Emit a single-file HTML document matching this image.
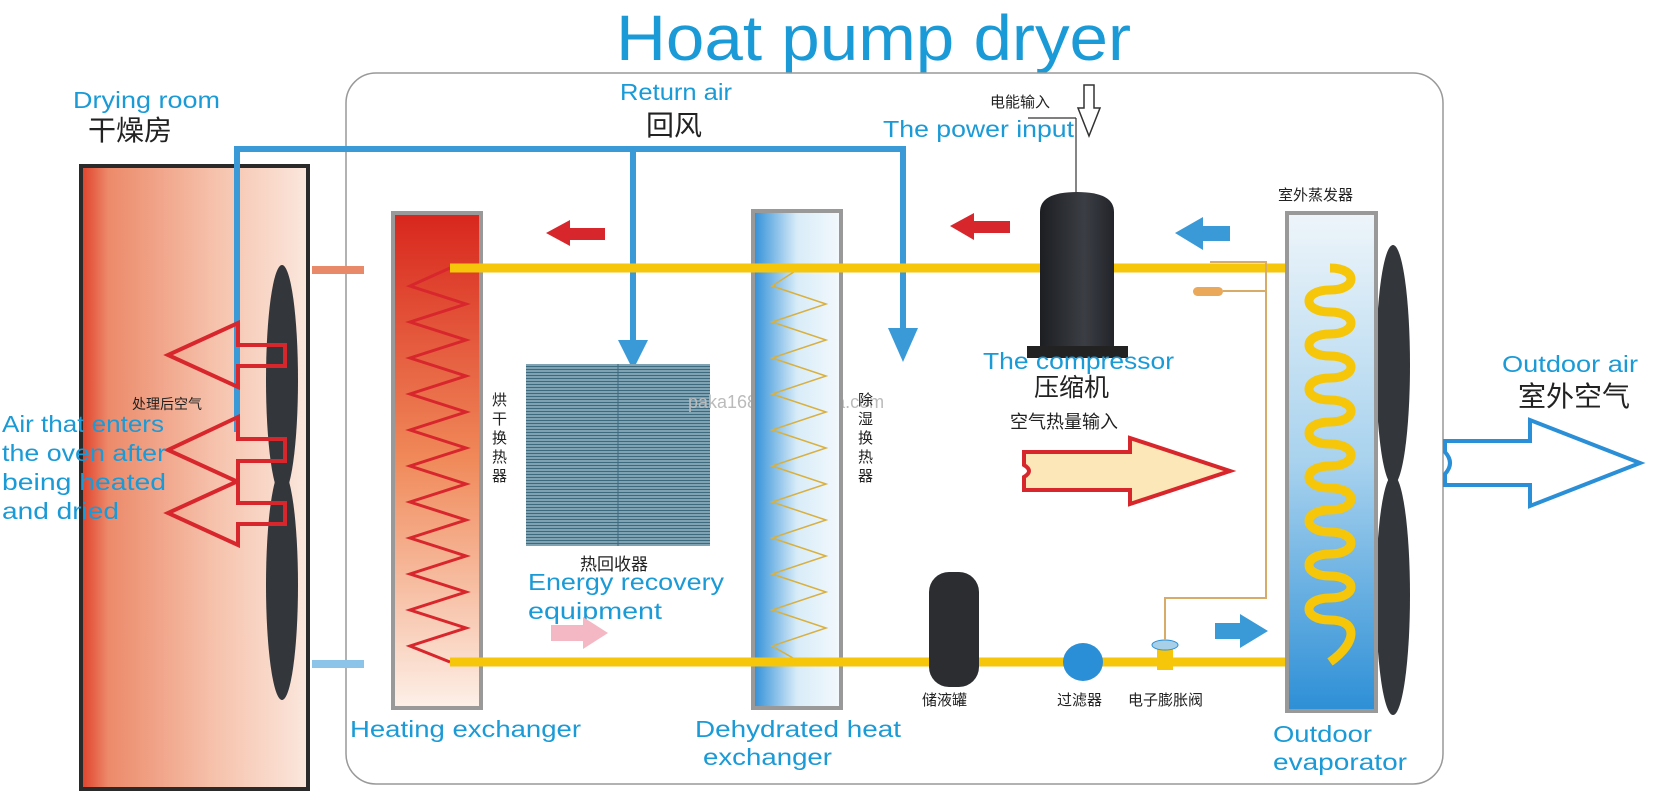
<!DOCTYPE html>
<html><head><meta charset="utf-8"><style>
html,body{margin:0;padding:0;background:#fff;}
svg{display:block;}
text{font-family:"Liberation Sans","Noto Sans CJK SC",sans-serif;}
.b{fill:#1a9ad6;}
.k{fill:#222;}
</style></head><body>
<svg width="1658" height="799" viewBox="0 0 1658 799" xmlns="http://www.w3.org/2000/svg">
<defs>
<linearGradient id="room" x1="0" x2="1" y1="0" y2="0">
<stop offset="0" stop-color="#e0402a"/><stop offset="0.12" stop-color="#ec8a6a"/><stop offset="0.6" stop-color="#f6c3ad"/><stop offset="1" stop-color="#fbe7dd"/></linearGradient>
<linearGradient id="heat" x1="0" x2="0" y1="0" y2="1">
<stop offset="0" stop-color="#d8261d"/><stop offset="0.5" stop-color="#f08a5a"/><stop offset="1" stop-color="#fdf0e8"/></linearGradient>
<linearGradient id="dehy" x1="0" x2="1" y1="0" y2="0">
<stop offset="0" stop-color="#2f8fd8"/><stop offset="0.5" stop-color="#d8ecf8"/><stop offset="1" stop-color="#f4f9fd"/></linearGradient>
<linearGradient id="evap" x1="0" x2="0" y1="0" y2="1">
<stop offset="0" stop-color="#eef5fa"/><stop offset="0.5" stop-color="#a8d2ee"/><stop offset="1" stop-color="#2d8fd6"/></linearGradient>
<linearGradient id="comp" x1="0" x2="1"><stop offset="0" stop-color="#1c1e22"/><stop offset="0.6" stop-color="#3b3e44"/><stop offset="1" stop-color="#22242a"/></linearGradient>
<pattern id="stripes" width="4" height="3" patternUnits="userSpaceOnUse"><rect width="4" height="3" fill="#7fa3b3"/><rect width="4" height="1" fill="#3e6a80"/></pattern>
</defs>

<text x="616" y="60" font-size="64" class="b" textLength="515" lengthAdjust="spacingAndGlyphs">Hoat pump dryer</text>
<rect x="346" y="73" width="1097" height="711" rx="30" fill="none" stroke="#999" stroke-width="1.5"/>

<!-- drying room -->
<rect x="81" y="166" width="227" height="623" fill="url(#room)" stroke="#2a2a2a" stroke-width="4"/>
<text x="73" y="108" font-size="23" class="b" textLength="147" lengthAdjust="spacingAndGlyphs">Drying room</text>
<text x="88" y="140" font-size="28" class="k">干燥房</text>
<rect x="312" y="266" width="52" height="8" fill="#e88a6a"/>
<rect x="312" y="660" width="52" height="8" fill="#8cc3e8"/>

<!-- return air line -->
<path d="M237 432 V149 H903 V330" fill="none" stroke="#3a9ad8" stroke-width="6"/>
<path d="M633 149 V345" fill="none" stroke="#3a9ad8" stroke-width="6"/>
<polygon points="618,340 648,340 633,370" fill="#3a9ad8"/>
<polygon points="888,328 918,328 903,362" fill="#3a9ad8"/>
<text x="620" y="100" font-size="23" class="b" textLength="112" lengthAdjust="spacingAndGlyphs">Return air</text>
<text x="646" y="135" font-size="28" class="k">回风</text>

<!-- fans -->
<ellipse cx="282" cy="380" rx="16" ry="115" fill="#33363a"/>
<ellipse cx="282" cy="585" rx="16" ry="115" fill="#33363a"/>
<ellipse cx="1393" cy="365" rx="17" ry="120" fill="#33363a"/>
<ellipse cx="1393" cy="595" rx="17" ry="120" fill="#33363a"/>

<!-- left outline arrows -->
<g fill="none" stroke="#d8262d" stroke-width="4">
<path d="M285 345 H238 V323 L168 355 L238 387 V366 H285 Z"/>
<path d="M285 439 H238 V417 L168 450 L238 482 V461 H285 Z"/>
<path d="M285 503 H238 V481 L168 513 L238 545 V524 H285 Z"/>
</g>
<text x="132" y="409" font-size="14" class="k">处理后空气</text>
<text x="2" y="432" font-size="23" class="b" textLength="162" lengthAdjust="spacingAndGlyphs">Air that enters</text>
<text x="2" y="461" font-size="23" class="b" textLength="164" lengthAdjust="spacingAndGlyphs">the oven after</text>
<text x="2" y="490" font-size="23" class="b" textLength="164" lengthAdjust="spacingAndGlyphs">being heated</text>
<text x="2" y="519" font-size="23" class="b" textLength="117" lengthAdjust="spacingAndGlyphs">and dried</text>

<!-- heating exchanger -->
<rect x="393" y="213" width="88" height="495" fill="url(#heat)" stroke="#999" stroke-width="4"/>
<polyline points="450,268 410,286 466,304 410,322 466,340 410,358 466,376 410,394 466,412 410,430 466,448 410,466 466,484 410,502 466,520 410,538 466,556 410,574 466,592 410,610 466,628 410,646 450,662" fill="none" stroke="#d8262d" stroke-width="3"/>
<text x="492" y="405" font-size="15" class="k">烘</text><text x="492" y="424" font-size="15" class="k">干</text><text x="492" y="443" font-size="15" class="k">换</text><text x="492" y="462" font-size="15" class="k">热</text><text x="492" y="481" font-size="15" class="k">器</text>
<text x="350" y="737" font-size="23" class="b" textLength="231" lengthAdjust="spacingAndGlyphs">Heating exchanger</text>

<!-- energy recovery -->
<rect x="526" y="364" width="184" height="182" fill="url(#stripes)"/>
<line x1="618" y1="364" x2="618" y2="546" stroke="#3e6a80" stroke-width="1"/>
<text x="580" y="570" font-size="17" class="k">热回收器</text>
<text x="528" y="590" font-size="23" class="b" textLength="196" lengthAdjust="spacingAndGlyphs">Energy recovery</text>
<text x="528" y="619" font-size="23" class="b" textLength="134" lengthAdjust="spacingAndGlyphs">equipment</text>
<polygon points="551,625 583,625 583,617 608,633 583,649 583,641 551,641" fill="#f3b8c3"/>
<text x="688" y="408" font-size="18" fill="#bbb">paka168.en.alibaba.com</text>

<!-- dehydrated -->
<rect x="753" y="211" width="88" height="497" fill="url(#dehy)" stroke="#999" stroke-width="4"/>
<polyline points="800,268 772,286 826,304 772,322 826,340 772,358 826,376 772,394 826,412 772,430 826,448 772,466 826,484 772,502 826,520 772,538 826,556 772,574 826,592 772,610 826,628 772,646 800,662" fill="none" stroke="#d8b040" stroke-width="1.5"/>
<text x="858" y="405" font-size="15" class="k">除</text><text x="858" y="424" font-size="15" class="k">湿</text><text x="858" y="443" font-size="15" class="k">换</text><text x="858" y="462" font-size="15" class="k">热</text><text x="858" y="481" font-size="15" class="k">器</text>
<text x="695" y="737" font-size="23" class="b" textLength="206" lengthAdjust="spacingAndGlyphs">Dehydrated heat</text>
<text x="703" y="765" font-size="23" class="b" textLength="129" lengthAdjust="spacingAndGlyphs">exchanger</text>

<!-- pipes -->
<path d="M450 268 H1330" stroke="#f5c60a" stroke-width="9" fill="none"/>
<path d="M450 662 H1330" stroke="#f5c60a" stroke-width="9" fill="none"/>

<!-- red / blue flow arrows -->
<polygon points="546,233 570,220 570,228 605,228 605,240 570,240 570,246" fill="#d8262d"/>
<polygon points="950,226 974,213 974,221 1010,221 1010,233 974,233 974,240" fill="#d8262d"/>
<polygon points="1175,233 1203,217 1203,226 1230,226 1230,241 1203,241 1203,250" fill="#3a9ad8"/>
<polygon points="1215,623 1240,623 1240,614 1268,631 1240,648 1240,639 1215,639" fill="#3a9ad8"/>

<!-- compressor -->
<line x1="1076" y1="118" x2="1076" y2="193" stroke="#333" stroke-width="1.2"/>
<line x1="1028" y1="118" x2="1076" y2="118" stroke="#333" stroke-width="1.2"/>
<path d="M1040 212 Q1040 192 1077 192 Q1114 192 1114 212 V350 H1040 Z" fill="url(#comp)"/>
<rect x="1027" y="346" width="101" height="12" fill="#222"/>
<path d="M1084 85 H1094 V108 H1100 L1089 136 L1078 108 H1084 Z" fill="#fff" stroke="#333" stroke-width="1.5"/>
<text x="990" y="107" font-size="15" class="k">电能输入</text>
<text x="883" y="137" font-size="23" class="b" textLength="191" lengthAdjust="spacingAndGlyphs">The power input</text>
<text x="983" y="369" font-size="23" class="b" textLength="191" lengthAdjust="spacingAndGlyphs">The compressor</text>
<text x="1034" y="396" font-size="25" class="k">压缩机</text>
<text x="1010" y="428" font-size="18" class="k">空气热量输入</text>
<path d="M1024 465 V452 H1130 V438 L1230 471 L1130 504 V490 H1024 V477 Q1034 471 1024 465 Z" fill="#fbe7b8" stroke="#d8262d" stroke-width="4"/>

<!-- receiver, filter, valve -->
<rect x="929" y="572" width="50" height="115" rx="20" fill="#2b2d31"/>
<text x="922" y="705" font-size="15" class="k">储液罐</text>
<ellipse cx="1083" cy="662" rx="20" ry="19" fill="#2a8fd6"/>
<text x="1057" y="705" font-size="15" class="k">过滤器</text>
<rect x="1157" y="648" width="16" height="22" fill="#f5c60a"/>
<ellipse cx="1165" cy="645" rx="13" ry="5" fill="#a8cfe8" stroke="#2a8fd6"/>
<path d="M1165 640 V598 H1266 V262 H1210" fill="none" stroke="#d8ac68" stroke-width="2"/>
<rect x="1193" y="287" width="30" height="9" rx="4.5" fill="#e9a85a"/>
<path d="M1223 291 H1266 V598" fill="none" stroke="#d8ac68" stroke-width="2"/>
<text x="1128" y="705" font-size="15" class="k">电子膨胀阀</text>

<!-- evaporator -->
<text x="1278" y="200" font-size="15" class="k">室外蒸发器</text>
<rect x="1287" y="213" width="89" height="498" fill="url(#evap)" stroke="#999" stroke-width="4"/>
<path d="M1330 268 C1358 268 1358 290 1330 290 S1302 312 1330 312 S1358 334 1330 334 S1302 356 1330 356 S1358 378 1330 378 S1302 400 1330 400 S1358 422 1330 422 S1302 444 1330 444 S1358 466 1330 466 S1302 488 1330 488 S1358 510 1330 510 S1302 532 1330 532 S1358 554 1330 554 S1302 576 1330 576 S1358 598 1330 598 S1302 620 1330 620 S1358 642 1330 662" fill="none" stroke="#f5c60a" stroke-width="9"/>
<text x="1273" y="742" font-size="23" class="b" textLength="99" lengthAdjust="spacingAndGlyphs">Outdoor</text>
<text x="1273" y="770" font-size="23" class="b" textLength="134" lengthAdjust="spacingAndGlyphs">evaporator</text>

<!-- outdoor air -->
<text x="1502" y="372" font-size="23" class="b" textLength="136" lengthAdjust="spacingAndGlyphs">Outdoor air</text>
<text x="1518" y="406" font-size="28" class="k">室外空气</text>
<path d="M1445 452 V441 H1530 V420 L1640 463 L1530 506 V485 H1445 V474 Q1455 463 1445 452 Z" fill="#fff" stroke="#2a8fd6" stroke-width="4"/>
</svg>
</body></html>
